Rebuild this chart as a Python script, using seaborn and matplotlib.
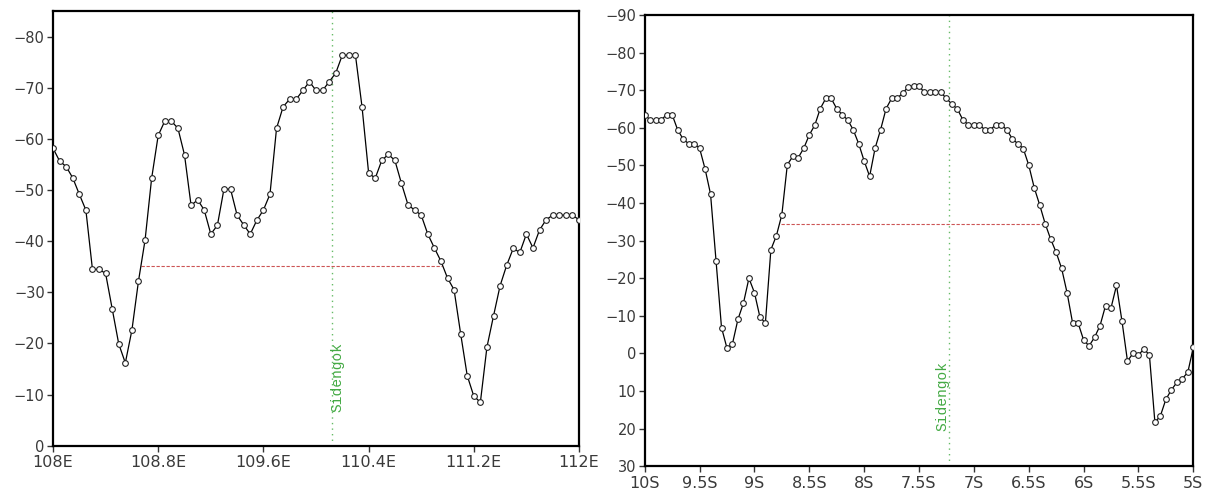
import numpy as np
import pandas as pd
import matplotlib
matplotlib.use("Agg")
import matplotlib.pyplot as plt
import seaborn as sns

# ---- Zonal section (longitude) ----
lon = np.linspace(108.0, 112.0, 81)
lon_values = [
    -58.2, -55.7, -54.6, -52.4, -49.2, -46.1, -34.5, -34.5, -33.7, -26.8,
    -19.9, -16.2, -22.6, -32.2, -40.2, -52.3, -60.7, -63.5, -63.5, -62.1,
    -56.9, -47.0, -48.1, -46.1, -41.4, -43.1, -50.2, -50.2, -45.1, -43.2,
    -41.4, -44.1, -46.1, -49.2, -62.1, -66.3, -67.8, -67.8, -69.5, -71.2,
    -69.5, -69.5, -71.2, -72.9, -76.4, -76.4, -76.4, -66.3, -53.4, -52.3,
    -55.8, -57.0, -55.8, -51.3, -47.1, -46.1, -45.1, -41.4, -38.7, -36.1,
    -32.8, -30.5, -21.9, -13.7, -9.7, -8.5, -19.3, -25.4, -31.3, -35.3,
    -38.6, -37.8, -41.4, -38.7, -42.2, -44.2, -45.1, -45.1, -45.1, -45.1,
    -44.2,
]
lon_ticks = [108.0, 108.8, 109.6, 110.4, 111.2, 112.0]
lon_tick_labels = ["108E", "108.8E", "109.6E", "110.4E", "111.2E", "112E"]
lon_yticks = [0, -10, -20, -30, -40, -50, -60, -70, -80]
lon_station = 110.12
lon_level = -35.2
lon_level_span = (108.67, 110.96)

# ---- Meridional section (latitude) ----
lat = np.linspace(-10.0, -5.0, 101)
lat_values = [
    -63.5, -62.1, -62.1, -62.1, -63.5, -63.5, -59.5, -57.0, -55.8, -55.8,
    -54.6, -49.1, -42.4, -24.7, -6.9, -1.4, -2.6, -9.1, -13.4, -20.0,
    -16.2, -9.7, -8.1, -27.6, -31.3, -36.9, -50.2, -52.4, -52.1, -54.6,
    -58.1, -60.7, -65.1, -67.8, -67.8, -65.1, -63.5, -62.1, -59.5, -55.8,
    -51.2, -47.1, -54.6, -59.5, -65.1, -67.8, -67.8, -69.2, -70.8, -71.1,
    -71.1, -69.4, -69.4, -69.4, -69.4, -67.8, -66.3, -65.0, -62.1, -60.8,
    -60.8, -60.8, -59.5, -59.5, -60.8, -60.8, -59.5, -57.1, -55.8, -54.5,
    -50.1, -44.1, -39.5, -34.5, -30.4, -26.9, -22.6, -16.1, -8.1, -8.1,
    -3.6, -2.0, -4.3, -7.4, -12.7, -12.1, -18.1, -8.6, 2.0, 0.0,
    0.4, -1.2, 0.4, 18.3, 16.6, 12.2, 9.7, 7.7, 6.7, 5.0,
    -1.6,
]
lat_ticks = [-10.0, -9.5, -9.0, -8.5, -8.0, -7.5, -7.0, -6.5, -6.0, -5.5, -5.0]
lat_tick_labels = ["10S", "9.5S", "9S", "8.5S", "8S", "7.5S", "7S", "6.5S", "6S", "5.5S", "5S"]
lat_yticks = [30, 20, 10, 0, -10, -20, -30, -40, -50, -60, -70, -80, -90]
lat_station = -7.23
lat_level = -34.4
lat_level_span = (-8.76, -6.35)

station_name = "Sidengok"

sns.set_style("ticks")
plt.rcParams["font.family"] = ["DejaVu Sans"]

fig = plt.figure(figsize=(12.07, 4.93), dpi=100)
ax1 = fig.add_axes([53 / 1207, 1 - 445.7 / 493, 526 / 1207, 435 / 493])
ax2 = fig.add_axes([644.7 / 1207, 1 - 466.3 / 493, 548.6 / 1207, 451.3 / 493])

df1 = pd.DataFrame({"x": lon, "v": lon_values})
df2 = pd.DataFrame({"x": lat, "v": lat_values})

line_kw = dict(color="black", linewidth=0.9, marker="o", markersize=4.1,
               markerfacecolor="white", markeredgecolor="#222222",
               markeredgewidth=0.8, zorder=3)

sns.lineplot(data=df1, x="x", y="v", ax=ax1, **line_kw)
sns.lineplot(data=df2, x="x", y="v", ax=ax2, **line_kw)


def fmt(v):
    return ("\u2212" + str(abs(int(v)))) if v < 0 else str(int(v))


def style_axes(ax, xlim, ylim, xt, xtl, yt):
    ax.set_xlim(*xlim)
    ax.set_ylim(*ylim)
    ax.set_xticks(xt)
    ax.set_xticklabels(xtl, fontsize=11.5, color="#3a3a3a")
    ax.set_yticks(yt)
    ax.set_yticklabels([fmt(v) for v in yt], fontsize=10.5, color="#3a3a3a")
    ax.set_xlabel("")
    ax.set_ylabel("")
    for s in ax.spines.values():
        s.set_visible(True)
        s.set_linewidth(1.6)
        s.set_color("black")
    ax.tick_params(axis="both", direction="out", length=4, width=1.0,
                   color="#333333", top=False, right=False)
    ax.tick_params(axis="x", pad=3)
    ax.tick_params(axis="y", pad=2)


style_axes(ax1, (108.0, 112.0), (0, -85.1), lon_ticks, lon_tick_labels, lon_yticks)
style_axes(ax2, (-10.0, -5.0), (30, -90), lat_ticks, lat_tick_labels, lat_yticks)

# station marker and half-level segments
green = "#66bb66"
red = "#cc5555"
ax1.axvline(lon_station, color=green, linestyle=(0, (1, 3)), linewidth=1.0, zorder=1)
ax2.axvline(lat_station, color=green, linestyle=(0, (1, 3)), linewidth=1.0, zorder=1)
ax1.hlines(lon_level, *lon_level_span, color=red, linestyle=(0, (3, 1.5)), linewidth=0.8, zorder=2)
ax2.hlines(lat_level, *lat_level_span, color=red, linestyle=(0, (3, 1.5)), linewidth=0.8, zorder=2)

label_font = ["Liberation Mono", "DejaVu Sans Mono"]
ax1.text(110.165, -6.5, station_name, rotation=90, ha="center", va="bottom",
         color="#44aa44", fontsize=10.5, family=label_font)
ax2.text(-7.287, 20.7, station_name, rotation=90, ha="center", va="bottom",
         color="#44aa44", fontsize=10.5, family=label_font)

fig.savefig("out.png", dpi=100)
